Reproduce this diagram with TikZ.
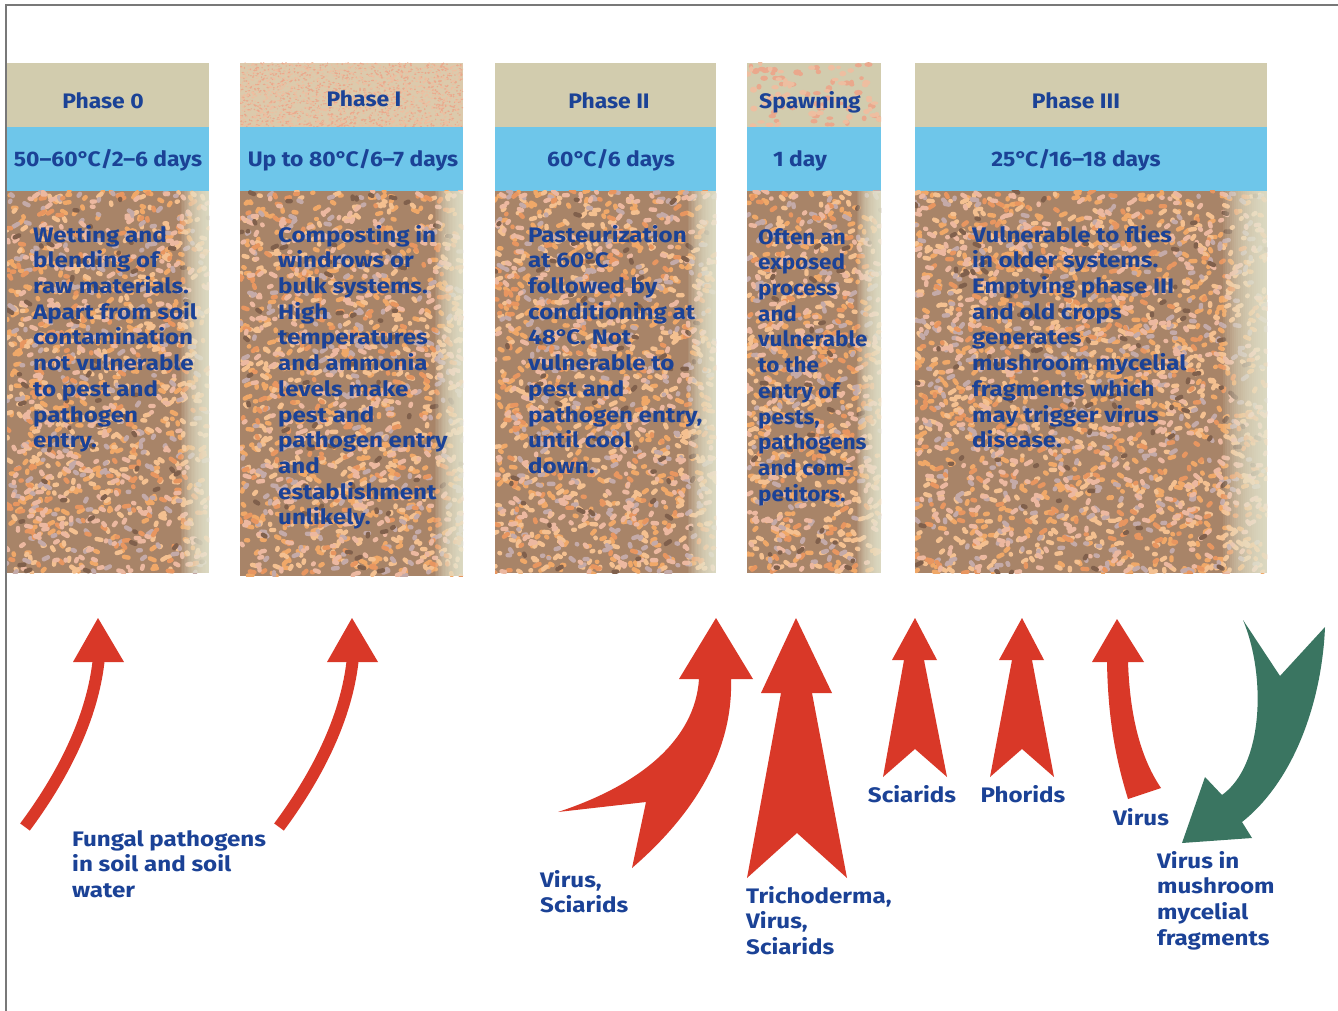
\documentclass[tikz,border=0pt]{standalone}
\usepackage{fontspec}
\setmainfont{Fira Sans}[FakeStretch=1.15]
\newfontfamily\hdrfont{Fira Sans}[FakeStretch=1.09]
\newfontfamily\condfont{Fira Sans}[FakeStretch=1.07]
\definecolor{txtblue}{RGB}{27,66,150}
\definecolor{hdrtan}{RGB}{210,204,174}
\definecolor{bandblue}{RGB}{110,198,234}
\definecolor{soilbase}{RGB}{168,132,104}
\definecolor{spA}{RGB}{240,168,104}
\definecolor{spB}{RGB}{244,192,144}
\definecolor{spC}{RGB}{196,170,168}
\definecolor{spD}{RGB}{232,150,96}
\definecolor{spE}{RGB}{128,96,76}
\definecolor{spF}{RGB}{236,184,160}
\definecolor{pkA}{RGB}{234,168,140}
\definecolor{pkB}{RGB}{238,190,160}
\definecolor{fadecol}{RGB}{234,236,214}
\definecolor{redarrow}{RGB}{217,56,40}
\definecolor{greenarrow}{RGB}{58,117,97}
\definecolor{framegray}{RGB}{120,120,120}
\definecolor{phIbase}{RGB}{220,202,172}
\newcommand\dgr{°\kern-2pt}
\newcommand\soilfill[5]{%
  \begin{scope}
  \clip (#1,#2) rectangle (#3,#4);
  \fill[soilbase] (#1,#2) rectangle (#3,#4);
  \foreach \cc/\nn in {spA/0.24,spB/0.22,spC/0.15,spD/0.12,spF/0.18,spE/0.04}{%
    \pgfmathtruncatemacro\cnt{\nn*(#3-#1)/55*(#4-#2)}%
    \draw[\cc, line width=4.4pt, line cap=round]
      foreach \k in {1,...,\cnt}{ ({#1+rnd*(#3-#1)},{#2+rnd*(#4-#2)}) -- ++({rnd*10-5},{rnd*6-3}) };
  }
  \foreach \s in {1,...,20}{%
    \fill[fadecol, opacity=0.09] ({#3-#5*\s/20},#2) rectangle (#3,#4);
  }
  \end{scope}}
\newcommand\hdrdots[8]{%
  \begin{scope}
  \clip (#1,#2) rectangle (#3,#4);
  \fill[#6] (#1,#2) rectangle (#3,#4);
  \foreach \cc in {pkA,pkB}{%
    \fill[\cc] foreach \k in {1,...,#5}{ ({#1+rnd*(#3-#1)},{#2+rnd*(#4-#2)}) ellipse [x radius={#7+rnd*#8}, y radius={0.8*#7+rnd*#8*0.6}] };
  }
  \end{scope}}
\tikzset{
  lbl/.style={font=\fontsize{21}{25.7}\selectfont\bfseries, text=txtblue, inner sep=0pt, align=left},
  hdr/.style={font=\hdrfont\fontsize{21}{25.7}\selectfont\bfseries, text=txtblue, inner sep=0pt, anchor=base},
  single/.style={font=\fontsize{21}{25.7}\selectfont\bfseries, text=txtblue, inner sep=0pt, anchor=base},
}
\begin{document}
\begin{tikzpicture}[x=1pt,y=-1pt]
\useasboundingbox (0,0) rectangle (1338,1011);
\fill[white] (0,0) rectangle (1338,1011);
\pgfmathsetseed{4242}
% frame
\draw[framegray, line width=1.2pt] (1338,5) -- (6,5) -- (6,1011);
% ---------- column 0
\fill[hdrtan] (7,63) rectangle (209,127);
\fill[bandblue] (7,127) rectangle (209,191);
\soilfill{7}{191}{209}{573}{28}
% ---------- column 1
\hdrdots{240}{63}{463}{127}{1100}{phIbase}{0.6}{1.1}
\fill[bandblue] (240,127) rectangle (463,191);
\soilfill{240}{191}{463}{576}{28}
% ---------- column 2
\fill[hdrtan] (495,63) rectangle (716,127);
\fill[bandblue] (495,127) rectangle (716,191);
\soilfill{495}{191}{716}{573}{28}
% ---------- column 3
\hdrdots{747}{63}{881}{127}{55}{hdrtan}{2.2}{2.2}
\fill[bandblue] (747,127) rectangle (881,191);
\soilfill{747}{191}{881}{573}{24}
% ---------- column 4
\fill[hdrtan] (915,63) rectangle (1267,127);
\fill[bandblue] (915,127) rectangle (1267,191);
\soilfill{915}{191}{1267}{573}{44}

% headers
\node[hdr] (h0) at (103,109) {Phase 0};
\node[hdr] (h1) at (364,107) {Phase I};
\node[hdr] (h2) at (609,109) {Phase II};
\node[hdr] (h3) at (810,109) {Spawning};
\node[hdr] (h4) at (1076,109) {Phase III};
\node[hdr] (b0) at (108,167) {50–60\dgr C/2–6 days};
\node[hdr] (b1) at (353,167) {Up to 80\dgr C/6–7 days};
\node[hdr] (b2) at (611,167) {60\dgr C/6 days};
\node[hdr] (b3) at (800,167) {1 day};
\node[hdr] (b4) at (1076,167) {25\dgr C/16–18 days};

% body texts
\node[lbl, anchor=north west] (t0) at (33,224) {\strut Wetting and\\blending of\\raw materials.\\Apart from soil\\contamination\\not vulnerable\\to pest and\\pathogen\\entry.};
\node[lbl, anchor=north west] (t1) at (278,224) {\strut Composting in\\windrows or\\bulk systems.\\High\\temperatures\\and ammonia\\levels make\\pest and\\pathogen entry\\and\\establishment\\unlikely.};
\node[lbl, anchor=north west] (t2) at (528,224) {\strut Pasteurization\\at 60\dgr C\\followed by\\conditioning at\\48\dgr C. Not\\vulnerable to\\pest and\\pathogen entry,\\until cool\\down.};
\node[lbl, anchor=north west, font=\condfont\fontsize{21}{25.7}\selectfont\bfseries] (t3) at (758,226) {\strut Often an\\exposed\\process\\and\\vulnerable\\to the\\entry of\\pests,\\pathogens\\and com-\\petitors.};
\node[lbl, anchor=north west] (t4) at (972,224) {\strut Vulnerable to flies\\in older systems.\\Emptying phase III\\and old crops\\generates\\mushroom mycelial\\fragments which\\may trigger virus\\disease.};

% ---------- arrows
% thin curved arrows
\draw[redarrow, line width=12pt] (25,827) .. controls (60,780) and (93,720) .. (99,657);
\fill[redarrow] (73,662) -- (98,618) -- (124,662) -- cycle;
\draw[redarrow, line width=12pt] (279,827) .. controls (314,780) and (347,720) .. (353,657);
\fill[redarrow] (327,662) -- (352,618) -- (378,662) -- cycle;
% big curved arrow (Virus, Sciarids)
\fill[redarrow] (716,618) -- (753,679) -- (731,679)
  .. controls (733,740) and (705,805) .. (632,868)
  -- (646,802) -- (558,812)
  .. controls (640,785) and (695,740) .. (699,679)
  -- (679,679) -- cycle;
% Trichoderma arrow
\fill[redarrow] (796,618) -- (832,693) -- (812,693) -- (847,878) -- (797,833) -- (747,878) -- (781,693) -- (761,693) -- cycle;
% Sciarids arrow
\fill[redarrow] (915,618) -- (937,660) -- (924,660) -- (947,777) -- (915,749) -- (883,777) -- (904,660) -- (892,660) -- cycle;
% Phorids arrow
\fill[redarrow] (1022,618) -- (1044,660) -- (1032,660) -- (1054,777) -- (1022,749) -- (990,777) -- (1012,660) -- (999,660) -- cycle;
% Virus arrow
\fill[redarrow] (1117,619) -- (1144,662) -- (1128,662)
  .. controls (1130,720) and (1142,760) .. (1161,788)
  -- (1128,799)
  .. controls (1116,760) and (1108,720) .. (1107,662)
  -- (1092,662) -- cycle;
% green arrow
\fill[greenarrow] (1182,843) -- (1205,777) -- (1222,795)
  .. controls (1264,765) and (1266,675) .. (1243,620)
  -- (1280,676) -- (1325,627)
  .. controls (1322,700) and (1295,780) .. (1242,822)
  -- (1252,838) -- cycle;

% ---------- labels
\node[lbl, anchor=north west] (l1) at (72,828) {\strut Fungal pathogens\\in soil and soil\\water};
\node[lbl, anchor=north west] (l2) at (540,869) {\strut Virus,\\Sciarids};
\node[lbl, anchor=north west] (l3) at (746,885) {\strut Trichoderma,\\Virus,\\Sciarids};
\node[single] (l4) at (912,802) {Sciarids};
\node[single] (l5) at (1023,802) {Phorids};
\node[single, anchor=base west] (l6) at (1113,825) {Virus};
\node[lbl, anchor=north west] (l7) at (1157,850) {\strut Virus in\\mushroom\\mycelial\\fragments};
\end{tikzpicture}
\end{document}
